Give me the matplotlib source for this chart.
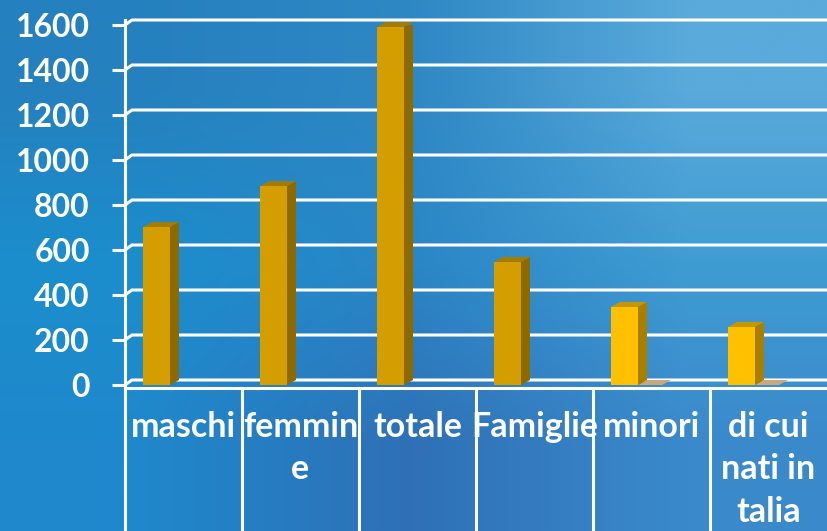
import numpy as np
import matplotlib
matplotlib.use('Agg')
import matplotlib.pyplot as plt
from matplotlib.patches import Polygon

# data
categories = ['maschi', 'femmin\ne', 'totale', 'Famiglie', 'minori', 'di cui\nnati in\ntalia']
values = [702, 884, 1591, 547, 347, 258]
front_colors = ['#D49E00', '#D49E00', '#D49E00', '#D49E00', '#FFC000', '#FFC000']
side_colors = ['#8C6A00', '#8C6A00', '#8C6A00', '#8C6A00', '#A87F00', '#A87F00']
top_colors = ['#A47C00', '#A47C00', '#A47C00', '#A47C00', '#C89600', '#C89600']
has_floor = [False, False, False, False, True, True]
yticks = [0, 200, 400, 600, 800, 1000, 1200, 1400, 1600]

W, H = 827, 531
fig = plt.figure(figsize=(W / 100, H / 100), dpi=100)

# background gradient
bg = fig.add_axes([0, 0, 1, 1], zorder=-5)
grid_cols = np.array([
    [[0x25, 0x80, 0xBE], [0x2E, 0x88, 0xC4], [0x5A, 0xAA, 0xDB]],
    [[0x1B, 0x8E, 0xCD], [0x2A, 0x86, 0xC6], [0x3F, 0x9C, 0xD2]],
    [[0x1F, 0x88, 0xCC], [0x2F, 0x70, 0xB6], [0x3A, 0x8A, 0xCB]],
]) / 255.0
bg.imshow(grid_cols, aspect='auto', interpolation='bilinear', extent=[0, 1, 0, 1])
bg.axis('off')

y_px = 360 / 1600  # pixels per unit
x_px = 117          # pixels per category
ax = fig.add_axes([125 / W, (H - 385) / H, 1 - 125 / W, 360 / H])
ax.set_xlim(0, 6)
ax.set_ylim(0, 1600)
ax.patch.set_alpha(0)

lw = 2.2
white = 'white'
dx = 9 / x_px
dy = 5 / y_px

# back-wall gridlines
for v in yticks:
    ax.plot([0, 7 / x_px, 6], [v, v + dy, v + dy], color=white, lw=lw,
            clip_on=False, zorder=1, solid_joinstyle='miter')

# 3d bars
for i, v in enumerate(values):
    xl = i + 18 / x_px
    xr = xl + 27 / x_px
    if has_floor[i]:
        fw = 24 / x_px
        ax.add_patch(Polygon([(xr, 0), (xr + dx, dy), (xr + dx + fw, dy), (xr + fw, 0)],
                             closed=True, color='#C8A97E', zorder=2, lw=0))
    ax.bar(xl, v, width=xr - xl, align='edge', color=front_colors[i], zorder=4, lw=0)
    ax.add_patch(Polygon([(xr, 0), (xr + dx, dy), (xr + dx, v + dy), (xr, v)],
                         closed=True, color=side_colors[i], zorder=3, lw=0))
    ax.add_patch(Polygon([(xl, v), (xl + dx, v + dy), (xr + dx, v + dy), (xr, v)],
                         closed=True, color=top_colors[i], zorder=3, lw=0, clip_on=False))

# axes styling
for s in ['top', 'right', 'bottom']:
    ax.spines[s].set_visible(False)
ax.spines['left'].set_color(white)
ax.spines['left'].set_linewidth(lw)
ax.spines['left'].set_bounds(-13, 1600 + dy)
ax.set_xticks([])
ax.set_yticks(yticks)
ax.set_yticklabels([str(t) for t in yticks])
ax.tick_params(axis='y', colors=white, length=9.4, width=lw, pad=16,
               labelsize=23)
for lab in ax.get_yticklabels():
    lab.set_fontfamily(['Lato', 'DejaVu Sans'])
    lab.set_fontweight('bold')

# category table below the axis
table_top = -13
table_bot = -(531 - 385) / y_px - 5
ax.plot([0, 6], [table_top, table_top], color=white, lw=lw, clip_on=False, zorder=5)
for i in range(6):
    ax.plot([i, i], [table_top, table_bot], color=white, lw=lw, clip_on=False, zorder=5)
    ax.text(i + 0.5, -(411 - 385) / y_px, categories[i], ha='center', va='top',
            color=white, fontsize=24.5, fontweight='bold', linespacing=1.4,
            family=['Lato', 'DejaVu Sans'], clip_on=False, zorder=6)

fig.savefig('out.png', dpi=100)
